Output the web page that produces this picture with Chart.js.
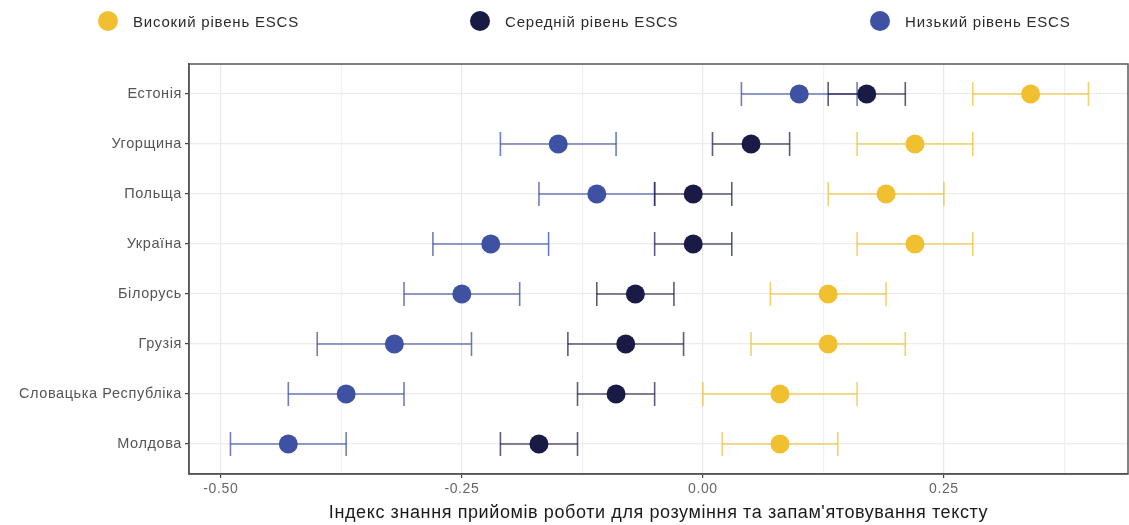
<!DOCTYPE html>
<html><head><meta charset="utf-8">
<script src="https://cdn.jsdelivr.net/npm/chart.js@4/dist/chart.umd.min.js"></script>
<style>
html,body{margin:0;padding:0;background:#fff;}
#wrap{position:relative;width:1129px;height:525px;overflow:hidden;}
canvas{position:absolute;left:0;top:0;}
#legend{position:absolute;left:0;top:0;width:1129px;height:44px;font-family:"Liberation Sans",Arial,sans-serif;font-size:15px;letter-spacing:0.8px;color:#2b2b2b;}
.li{position:absolute;top:11px;display:flex;align-items:center;height:20px;white-space:nowrap;}
.dot{width:20px;height:20px;border-radius:50%;margin-right:15px;flex:none;}
</style></head><body>
<div id="wrap"><canvas id="c" width="1129" height="525"></canvas><div id="legend"></div></div>
<script>
const countries = ['Естонія','Угорщина','Польща','Україна','Білорусь','Грузія','Словацька Республіка','Молдова'];
const seriesNames = ['Високий рівень ESCS','Середній рівень ESCS','Низький рівень ESCS'];
const highMean = [0.34, 0.22, 0.19, 0.22, 0.13, 0.13, 0.08, 0.08];
const highLow  = [0.28, 0.16, 0.13, 0.16, 0.07, 0.05, 0.00, 0.02];
const highHigh = [0.40, 0.28, 0.25, 0.28, 0.19, 0.21, 0.16, 0.14];
const midMean  = [0.17, 0.05, -0.01, -0.01, -0.07, -0.08, -0.09, -0.17];
const midLow   = [0.13, 0.01, -0.05, -0.05, -0.11, -0.14, -0.13, -0.21];
const midHigh  = [0.21, 0.09, 0.03, 0.03, -0.03, -0.02, -0.05, -0.13];
const lowMean  = [0.10, -0.15, -0.11, -0.22, -0.25, -0.32, -0.37, -0.43];
const lowLow   = [0.04, -0.21, -0.17, -0.28, -0.31, -0.40, -0.43, -0.49];
const lowHigh  = [0.16, -0.09, -0.05, -0.16, -0.19, -0.24, -0.31, -0.37];
const xTicks = [-0.5, -0.375, -0.25, -0.125, 0, 0.125, 0.25, 0.375];
const xTickLabels = ['-0.50', '', '-0.25', '', '0.00', '', '0.25', ''];
const xTitle = "Індекс знання прийомів роботи для розуміння та запам'ятовування тексту";

const pointColors = ['#F0C030', '#1A1A47', '#3F51A2'];
const barColors = ['rgba(240,192,48,0.72)', 'rgba(26,26,71,0.72)', 'rgba(63,81,162,0.75)'];
const FONT = '"Liberation Sans", Arial, sans-serif';

function pts(means) { return means.map((m, i) => ({x: m, y: i})); }
function bars(lo, hi) {
  const out = [];
  lo.forEach((l, i) => { out.push({x: l, y: i}, {x: hi[i], y: i}, {x: null, y: null}); });
  return out;
}
const groups = [[highMean, highLow, highHigh], [midMean, midLow, midHigh], [lowMean, lowLow, lowHigh]];
const datasets = [];
groups.forEach((g, k) => {
  datasets.push({
    label: seriesNames[k], role: 'point', data: pts(g[0]), order: 0,
    backgroundColor: pointColors[k], borderColor: pointColors[k],
    pointRadius: 9.5, pointHoverRadius: 9.5, pointBorderWidth: 0, showLine: false
  });
});
groups.forEach((g, k) => {
  datasets.push({
    label: seriesNames[k] + ' err', role: 'bar', data: bars(g[1], g[2]), order: 1,
    showLine: true, spanGaps: false, borderColor: barColors[k], borderWidth: 1.6,
    pointStyle: 'line', rotation: 90, pointRadius: 12, pointHoverRadius: 12,
    pointBorderColor: barColors[k], pointBorderWidth: 1.6, backgroundColor: barColors[k]
  });
});

const frame = {
  id: 'frame',
  beforeUpdate(chart) { try { chart.ctx.letterSpacing = '0.6px'; } catch (e) {} },
  beforeDraw(chart) { try { chart.ctx.letterSpacing = '0.6px'; } catch (e) {} },
  afterDraw(chart) {
    const a = chart.chartArea, c = chart.ctx;
    c.save(); c.strokeStyle = '#5a5a5a'; c.lineWidth = 1.5;
    c.strokeRect(a.left, a.top, a.right - a.left, a.bottom - a.top);
    c.restore();
  }
};

const chart = new Chart(document.getElementById('c'), {
  type: 'scatter',
  data: { datasets },
  plugins: [frame],
  options: {
    responsive: false, animation: false,
    layout: { autoPadding: false, padding: { top: 64, right: 1, left: 0, bottom: 0 } },
    plugins: { legend: { display: false }, tooltip: { enabled: false } },
    scales: {
      x: {
        type: 'linear', min: -0.533, max: 0.441,
        afterBuildTicks(s) { s.ticks = xTicks.map(v => ({value: v})); },
        afterFit(s) { s.height = 51; s.paddingLeft = 0; s.paddingRight = 0; },
        ticks: { callback: (v, i) => xTickLabels[i], color: '#666', font: { family: FONT, size: 14 }, padding: 3, maxRotation: 0, autoSkip: false },
        grid: { color: (ctx) => (ctx.index % 2 === 0 ? '#e8e8e8' : '#f1f1f1'), lineWidth: 1.2,
                tickColor: (ctx) => (xTickLabels[ctx.index] ? '#444' : 'rgba(0,0,0,0)'), tickLength: 4 },
        border: { color: '#444', width: 1.5 },
        title: { display: true, text: xTitle, color: '#1a1a1a', font: { family: FONT, size: 18 }, padding: { top: 0, bottom: 1 } }
      },
      y: {
        type: 'linear', min: -0.6, max: 7.6, reverse: true,
        afterBuildTicks(s) { s.ticks = countries.map((_, i) => ({value: i})); },
        afterFit(s) { s.width = 189; s.paddingTop = 0; s.paddingBottom = 0; },
        ticks: { callback: (v) => countries[v], color: '#555', font: { family: FONT, size: 14.5 }, padding: 3, autoSkip: false },
        grid: { color: '#ececec', lineWidth: 1.2, tickColor: '#444', tickLength: 4 },
        border: { color: '#444', width: 1.5 }
      }
    }
  }
});

const legendLeft = [98, 470, 870];
const leg = document.getElementById('legend');
chart.data.datasets.filter(d => d.role === 'point').forEach((d, k) => {
  const item = document.createElement('div');
  item.className = 'li';
  item.style.left = legendLeft[k] + 'px';
  const dot = document.createElement('span');
  dot.className = 'dot';
  dot.style.background = d.backgroundColor;
  const t = document.createElement('span');
  t.textContent = d.label;
  item.appendChild(dot); item.appendChild(t);
  leg.appendChild(item);
});
</script>
</body></html>
